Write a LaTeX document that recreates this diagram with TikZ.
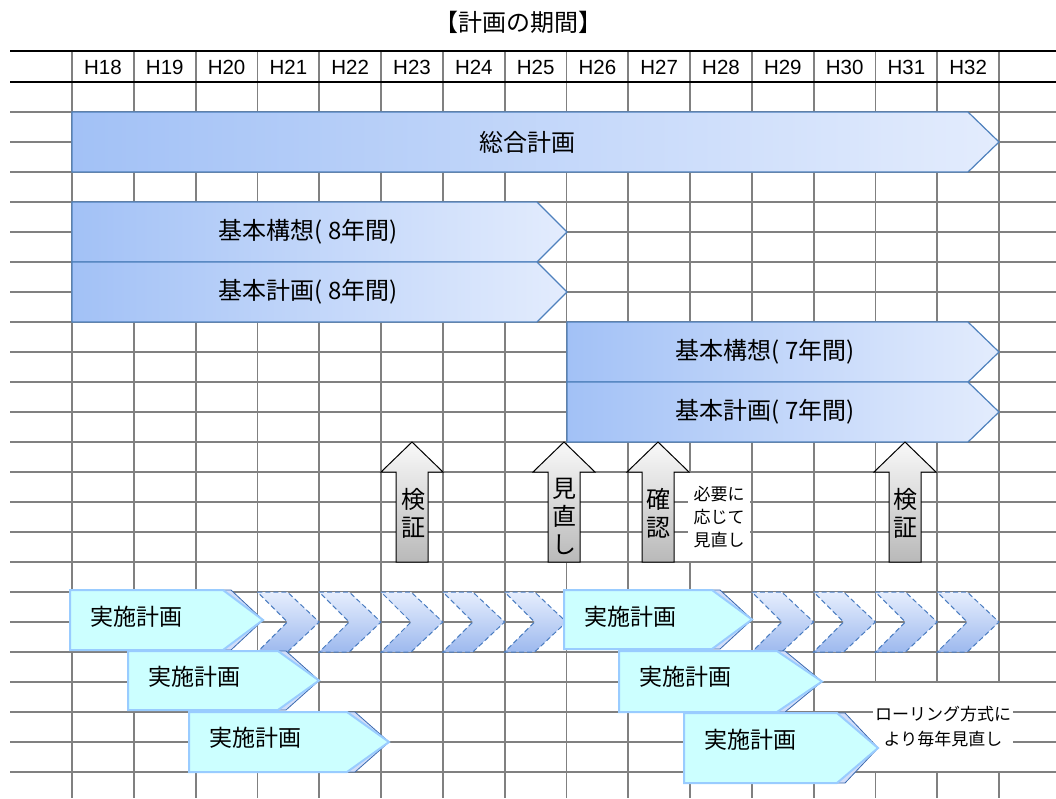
\documentclass[tikz,border=0pt]{standalone}
\usepackage{fontspec}
\setmainfont{Liberation Sans}
\newfontfamily\jpfont{Noto Sans CJK JP}
\usepackage{tikz}

\definecolor{gridgray}{HTML}{808080}
\definecolor{barline}{HTML}{4F81BD}
\definecolor{bardark}{HTML}{A2C1F6}
\definecolor{barlight}{HTML}{E3ECFD}
\definecolor{jisshifill}{HTML}{CCFFFF}
\definecolor{jisshiline}{HTML}{99CCFF}
\definecolor{curlfill}{HTML}{D2DDF8}
\definecolor{curlline}{HTML}{3A6AB0}
\definecolor{chevtop}{HTML}{E6EEFD}
\definecolor{chevbot}{HTML}{9DB9EE}
\definecolor{chevline}{HTML}{4A7CC0}

\begin{document}
\begin{tikzpicture}[x=1pt,y=-1pt,
  gridline/.style={draw=gridgray,line width=1.8pt},
  headline/.style={draw=black,line width=2.6pt},
  bigbar/.style={draw=barline,line width=1.2pt,left color=bardark,right color=barlight},
  uparrow/.style={draw=black,line width=1pt,top color=gray!5,bottom color=gray!55},
  chevron/.style={draw=chevline,line width=1pt,dash pattern=on 5pt off 3pt,top color=chevtop,bottom color=chevbot},
  jisshi/.style={draw=jisshiline,line width=2pt,fill=jisshifill},
  curl/.style={draw=curlline,line width=0.8pt,fill=curlfill},
  bartext/.style={font=\jpfont\fontsize{24}{28}\selectfont,align=center,inner sep=0pt},
  notebox/.style={font=\jpfont\fontsize{17}{23}\selectfont,align=center,fill=white,inner sep=0pt}]
  \useasboundingbox (0,0) rectangle (1056,798);

  % grid
  \foreach \k in {0,...,22}
    \draw[gridline] (10,{112+30*\k}) -- (1056,{112+30*\k});
  \foreach \i in {0,...,15}
    \draw[gridline] ({72+61.8*\i},51) -- ({72+61.8*\i},798);
  \draw[headline] (10,51) -- (1056,51);
  \draw[headline] (10,82) -- (1056,82);
  \foreach \y [count=\i from 0] in {18,...,32}
    \node[font=\fontsize{20.5}{20.5}\selectfont] (h\y) at ({103+61.8*\i},67) {H\y};
  \node[font=\jpfont\fontsize{24}{24}\selectfont] (title) at (518,22) {【計画の期間】};

  % plans
  \draw[bigbar] (72,112) -- (968,112) -- (999,142) -- (968,172) -- (72,172) -- cycle;
  \node[bartext] (sogo) at (527,142) {総合計画};
  \draw[bigbar] (72,202) -- (537,202) -- (567,232) -- (537,262) -- (72,262) -- cycle;
  \node[bartext] (koso8) at (308,232) {基本構想( 8年間)};
  \draw[bigbar] (72,262) -- (537,262) -- (567,292) -- (537,322) -- (72,322) -- cycle;
  \node[bartext] (keikaku8) at (308,292) {基本計画( 8年間)};
  \draw[bigbar] (567,322) -- (968,322) -- (999,352) -- (968,382) -- (567,382) -- cycle;
  \node[bartext] (koso7) at (765,352) {基本構想( 7年間)};
  \draw[bigbar] (567,382) -- (968,382) -- (999,412) -- (968,442) -- (567,442) -- cycle;
  \node[bartext] (keikaku7) at (765,412) {基本計画( 7年間)};

  % checks
  \foreach \c in {412,564,658,905}
    \draw[uparrow] (\c,442) -- ++(31,30) -- ++(-15,0) -- ++(0,90) -- ++(-32,0)
      -- ++(0,-90) -- ++(-15,0) -- cycle;
  \node[bartext] (kensho1) at (413,513) {検\\証};
  \node[bartext] (minaoshi) at (564,516) {見\\直\\し};
  \node[bartext] (kakunin) at (658,513) {確\\認};
  \node[bartext] (kensho2) at (905,513) {検\\証};
  \node[notebox,minimum width=62pt,minimum height=88pt] (hitsuyo) at (719,517) {必要に\\応じて\\見直し};
  \node[notebox,font=\jpfont\fontsize{17}{25}\selectfont,minimum width=140pt,minimum height=88pt]
    (rolling) at (943,727) {ローリング方式に\\より毎年見直し};

  % yearly plans
  \foreach \x in {257.4,319.2,381,442.8,504.6,751.8,813.6,875.4,937.2}
    \draw[chevron] (\x,592) -- ++(30,0) -- ++(31.8,30) -- ++(-31.8,30) -- ++(-30,0)
      -- ++(30,-30) -- cycle;
  \foreach \l/\s/\r/\ya/\yb/\ty [count=\n] in {70/223/263/590/650/617, 128/278/319/651/710/677,
      189/347/389/712/772/738, 564/712/752/590/649/617, 619/777/822/651/712/677,
      684/837/878/713/783/740} {
    \draw[curl] (\l,\yb) -- (\l,\ya) -- (\s+8,\ya) -- (\r,{(\ya+\yb)/2}) -- (\s+8,\yb) -- cycle;
    \draw[jisshi] (\l,\ya) -- (\s,\ya) -- (\r,{(\ya+\yb)/2}) -- (\s,\yb) -- (\l,\yb) -- cycle;
    \node[bartext,font=\jpfont\fontsize{23}{28}\selectfont] (jisshi\n) at (\l+66,\ty) {実施計画};
  }
\end{tikzpicture}
\end{document}
